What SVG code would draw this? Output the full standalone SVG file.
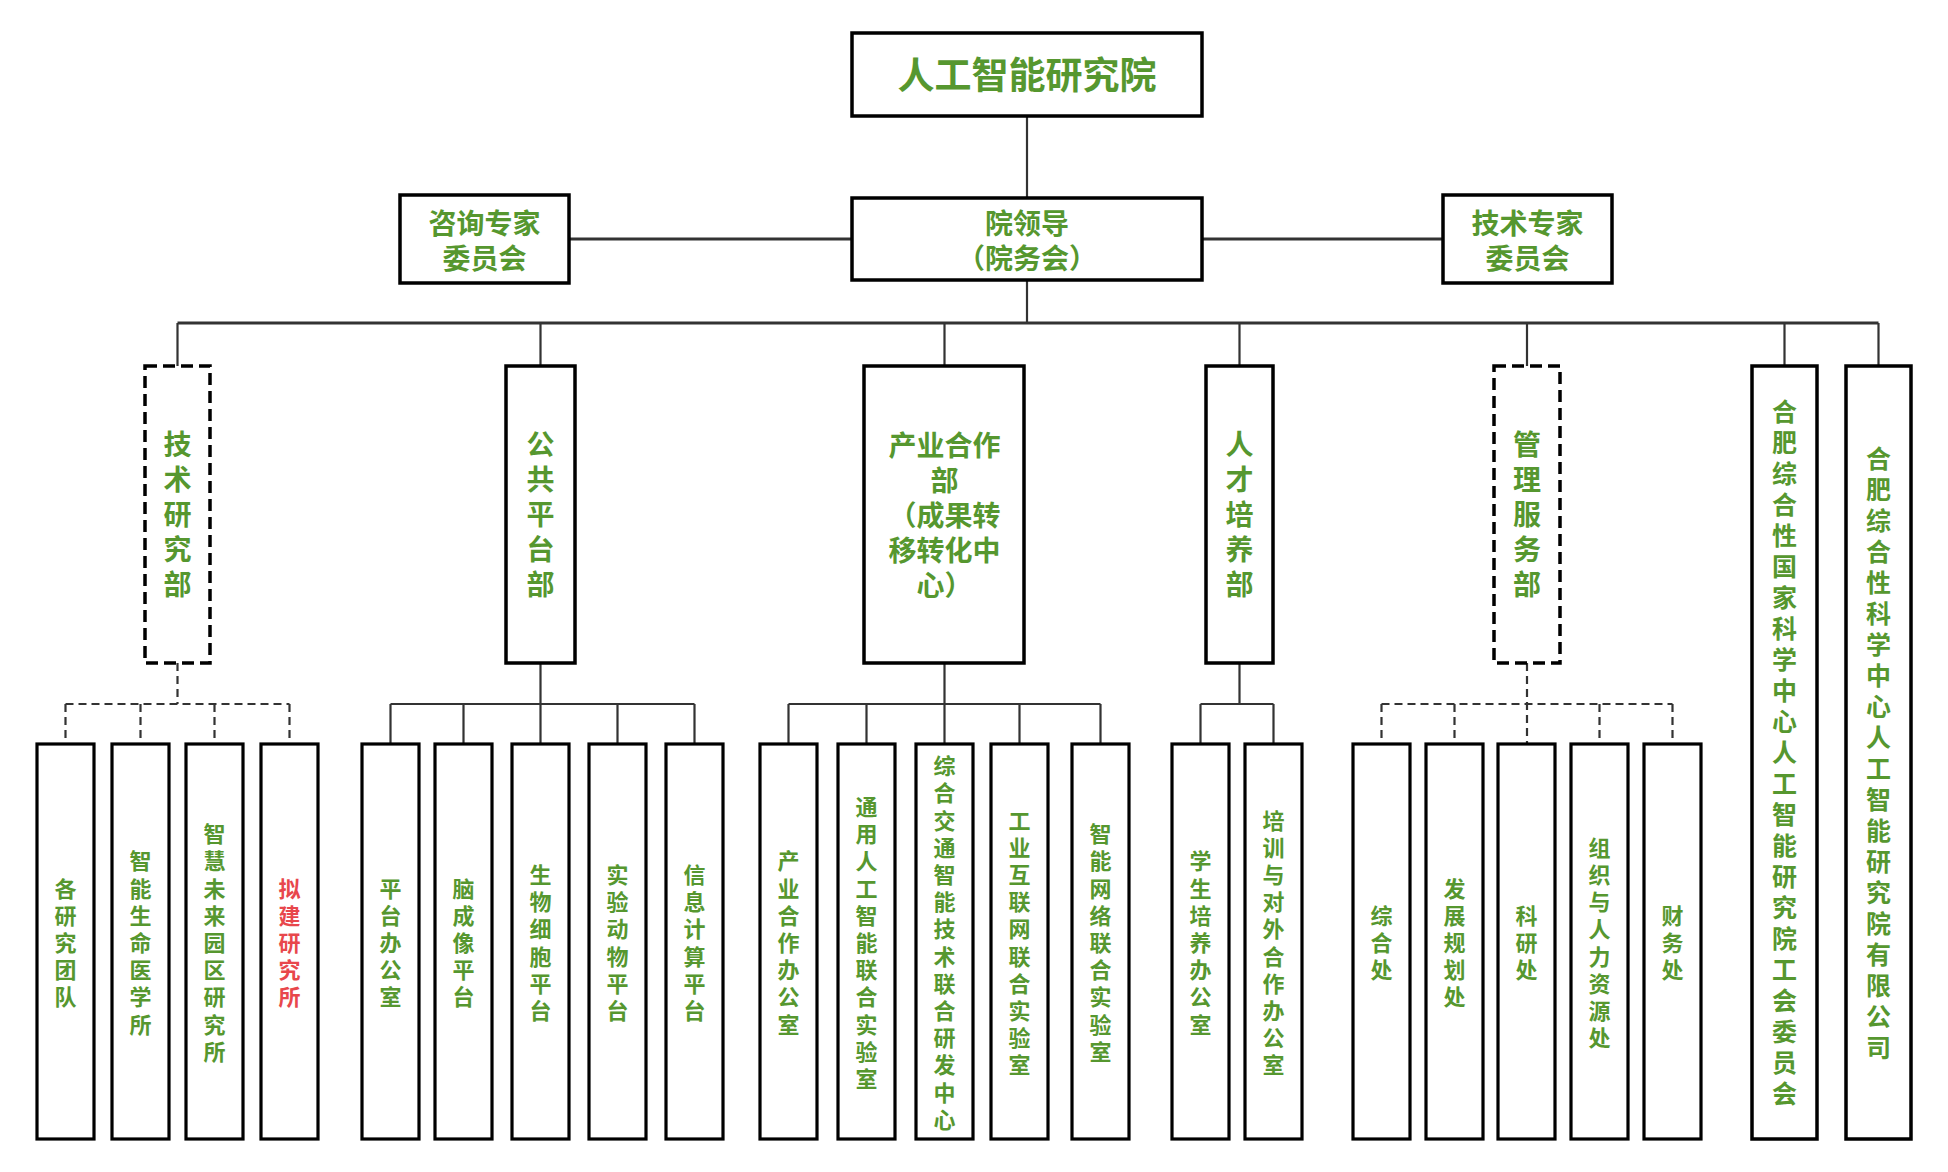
<svg xmlns="http://www.w3.org/2000/svg" width="1948" height="1172" viewBox="0 0 1948 1172">
<style>
.box{fill:#fff;stroke:#000;stroke-width:3.5}
.dbox{fill:#fff;stroke:#000;stroke-width:3.5;stroke-dasharray:12 6}
.cb{fill:#fff;stroke:#000;stroke-width:3.2}
.ln{stroke:#333;stroke-width:2.2;fill:none}
.lnb{stroke:#333;stroke-width:3;fill:none}
.dl{stroke:#333;stroke-width:2.2;fill:none;stroke-dasharray:8 5}
text{font-family:"Noto Sans CJK SC","Noto Sans",sans-serif;font-weight:bold;fill:#56972f;text-anchor:middle}
.t1{font-size:37px}
.t2{font-size:28px}
.ct{font-size:22px}
.ht{font-size:25px}
.red{fill:#e8474c}
</style>
<rect width="1948" height="1172" fill="#fff"/>
<g id="connectors">
<path class="ln" d="M1027 116V198"/>
<path class="lnb" d="M569 239H852M1202 239H1443"/>
<path class="ln" d="M1027 280V323"/>
<path class="lnb" d="M177.5 323H1878.5"/>
<path class="ln" d="M177.5 323V366M540.5 323V366M944.5 323V366M1239.5 323V366M1527 323V366M1784.5 323V366M1878.5 323V366"/>
<path class="dl" d="M177.5 663V704M65.5 704H289.5M65.5 704V744M140.5 704V744M214.5 704V744M289.5 704V744"/>
<path class="ln" d="M540.5 663V744M390.5 704H694.5M390.5 704V744M463.5 704V744M617.5 704V744M694.5 704V744"/>
<path class="ln" d="M944.5 663V744M788.5 704H1100.5M788.5 704V744M866.5 704V744M1019.5 704V744M1100.5 704V744"/>
<path class="ln" d="M1239.5 663V704M1200.5 704H1273.5M1200.5 704V744M1273.5 704V744"/>
<path class="dl" d="M1527 663V744M1381.5 704H1672.5M1381.5 704V744M1454.5 704V744M1599.5 704V744M1672.5 704V744"/>
</g>
<g id="n-root"><rect class="box" x="852" y="33" width="350" height="83"/><text class="t1" x="1027" y="89">人工智能研究院</text></g>
<g id="n-leader"><rect class="box" x="852" y="198" width="350" height="82"/><text class="t2" x="1027" y="234">院领导</text><text class="t2" x="1027" y="269">（院务会）</text></g>
<g id="n-consult"><rect class="box" x="400" y="195" width="169" height="88"/><text class="t2" x="484.5" y="234">咨询专家</text><text class="t2" x="484.5" y="269">委员会</text></g>
<g id="n-techexp"><rect class="box" x="1443" y="195" width="169" height="88"/><text class="t2" x="1527.5" y="234">技术专家</text><text class="t2" x="1527.5" y="269">委员会</text></g>
<g id="d-tech"><rect class="dbox" x="145" y="366" width="65" height="297"/><text class="t2" x="177.5 177.5 177.5 177.5 177.5" y="455 490 525 560 595">技术研究部</text></g>
<g id="d-public"><rect class="box" x="506" y="366" width="69" height="297"/><text class="t2" x="540.5 540.5 540.5 540.5 540.5" y="455 490 525 560 595">公共平台部</text></g>
<g id="d-industry"><rect class="box" x="864" y="366" width="160" height="297"/><text class="t2" x="944.5" y="456">产业合作</text><text class="t2" x="944.5" y="491">部</text><text class="t2" x="944.5" y="526">（成果转</text><text class="t2" x="944.5" y="561">移转化中</text><text class="t2" x="944.5" y="596">心）</text></g>
<g id="d-talent"><rect class="box" x="1206" y="366" width="67" height="297"/><text class="t2" x="1239.5 1239.5 1239.5 1239.5 1239.5" y="455 490 525 560 595">人才培养部</text></g>
<g id="d-admin"><rect class="dbox" x="1494" y="366" width="66" height="297"/><text class="t2" x="1527 1527 1527 1527 1527" y="455 490 525 560 595">管理服务部</text></g>
<g id="d-union"><rect class="box" x="1752" y="366" width="65" height="773"/><text class="ht" x="1784.5 1784.5 1784.5 1784.5 1784.5 1784.5 1784.5 1784.5 1784.5 1784.5 1784.5 1784.5 1784.5 1784.5 1784.5 1784.5 1784.5 1784.5 1784.5 1784.5 1784.5 1784.5 1784.5" y="421 452 483 514 545 576 607 638 669 700 731 762 793 824 855 886 917 948 979 1010 1041 1072 1103">合肥综合性国家科学中心人工智能研究院工会委员会</text></g>
<g id="d-company"><rect class="box" x="1846" y="366" width="65" height="773"/><text class="ht" x="1878.5 1878.5 1878.5 1878.5 1878.5 1878.5 1878.5 1878.5 1878.5 1878.5 1878.5 1878.5 1878.5 1878.5 1878.5 1878.5 1878.5 1878.5 1878.5 1878.5" y="467.5 498.5 529.5 560.5 591.5 622.5 653.5 684.5 715.5 746.5 777.5 808.5 839.5 870.5 901.5 932.5 963.5 994.5 1025.5 1056.5">合肥综合性科学中心人工智能研究院有限公司</text></g>
<g id="c1"><rect class="cb" x="37" y="744" width="57" height="395"/><text class="ct" x="65.5 65.5 65.5 65.5 65.5" y="896.6 923.8 951 978.2 1005.4">各研究团队</text></g>
<g id="c2"><rect class="cb" x="112" y="744" width="57" height="395"/><text class="ct" x="140.5 140.5 140.5 140.5 140.5 140.5 140.5" y="869.4 896.6 923.8 951 978.2 1005.4 1032.6">智能生命医学所</text></g>
<g id="c3"><rect class="cb" x="186" y="744" width="57" height="395"/><text class="ct" x="214.5 214.5 214.5 214.5 214.5 214.5 214.5 214.5 214.5" y="842.2 869.4 896.6 923.8 951 978.2 1005.4 1032.6 1059.8">智慧未来园区研究所</text></g>
<g id="c4"><rect class="cb" x="261" y="744" width="57" height="395"/><text class="ct red" x="289.5 289.5 289.5 289.5 289.5" y="896.6 923.8 951 978.2 1005.4">拟建研究所</text></g>
<g id="c5"><rect class="cb" x="362" y="744" width="57" height="395"/><text class="ct" x="390.5 390.5 390.5 390.5 390.5" y="896.6 923.8 951 978.2 1005.4">平台办公室</text></g>
<g id="c6"><rect class="cb" x="435" y="744" width="57" height="395"/><text class="ct" x="463.5 463.5 463.5 463.5 463.5" y="896.6 923.8 951 978.2 1005.4">脑成像平台</text></g>
<g id="c7"><rect class="cb" x="512" y="744" width="57" height="395"/><text class="ct" x="540.5 540.5 540.5 540.5 540.5 540.5" y="883 910.2 937.4 964.6 991.8 1019">生物细胞平台</text></g>
<g id="c8"><rect class="cb" x="589" y="744" width="57" height="395"/><text class="ct" x="617.5 617.5 617.5 617.5 617.5 617.5" y="883 910.2 937.4 964.6 991.8 1019">实验动物平台</text></g>
<g id="c9"><rect class="cb" x="666" y="744" width="57" height="395"/><text class="ct" x="694.5 694.5 694.5 694.5 694.5 694.5" y="883 910.2 937.4 964.6 991.8 1019">信息计算平台</text></g>
<g id="c10"><rect class="cb" x="760" y="744" width="57" height="395"/><text class="ct" x="788.5 788.5 788.5 788.5 788.5 788.5 788.5" y="869.4 896.6 923.8 951 978.2 1005.4 1032.6">产业合作办公室</text></g>
<g id="c11"><rect class="cb" x="838" y="744" width="57" height="395"/><text class="ct" x="866.5 866.5 866.5 866.5 866.5 866.5 866.5 866.5 866.5 866.5 866.5" y="815 842.2 869.4 896.6 923.8 951 978.2 1005.4 1032.6 1059.8 1087">通用人工智能联合实验室</text></g>
<g id="c12"><rect class="cb" x="916" y="744" width="57" height="395"/><text class="ct" x="944.5 944.5 944.5 944.5 944.5 944.5 944.5 944.5 944.5 944.5 944.5 944.5 944.5 944.5" y="774.2 801.4 828.6 855.8 883 910.2 937.4 964.6 991.8 1019 1046.2 1073.4 1100.6 1127.8">综合交通智能技术联合研发中心</text></g>
<g id="c13"><rect class="cb" x="991" y="744" width="57" height="395"/><text class="ct" x="1019.5 1019.5 1019.5 1019.5 1019.5 1019.5 1019.5 1019.5 1019.5 1019.5" y="828.6 855.8 883 910.2 937.4 964.6 991.8 1019 1046.2 1073.4">工业互联网联合实验室</text></g>
<g id="c14"><rect class="cb" x="1072" y="744" width="57" height="395"/><text class="ct" x="1100.5 1100.5 1100.5 1100.5 1100.5 1100.5 1100.5 1100.5 1100.5" y="842.2 869.4 896.6 923.8 951 978.2 1005.4 1032.6 1059.8">智能网络联合实验室</text></g>
<g id="c15"><rect class="cb" x="1172" y="744" width="57" height="395"/><text class="ct" x="1200.5 1200.5 1200.5 1200.5 1200.5 1200.5 1200.5" y="869.4 896.6 923.8 951 978.2 1005.4 1032.6">学生培养办公室</text></g>
<g id="c16"><rect class="cb" x="1245" y="744" width="57" height="395"/><text class="ct" x="1273.5 1273.5 1273.5 1273.5 1273.5 1273.5 1273.5 1273.5 1273.5 1273.5" y="828.6 855.8 883 910.2 937.4 964.6 991.8 1019 1046.2 1073.4">培训与对外合作办公室</text></g>
<g id="c17"><rect class="cb" x="1353" y="744" width="57" height="395"/><text class="ct" x="1381.5 1381.5 1381.5" y="923.8 951 978.2">综合处</text></g>
<g id="c18"><rect class="cb" x="1426" y="744" width="57" height="395"/><text class="ct" x="1454.5 1454.5 1454.5 1454.5 1454.5" y="896.6 923.8 951 978.2 1005.4">发展规划处</text></g>
<g id="c19"><rect class="cb" x="1498" y="744" width="57" height="395"/><text class="ct" x="1526.5 1526.5 1526.5" y="923.8 951 978.2">科研处</text></g>
<g id="c20"><rect class="cb" x="1571" y="744" width="57" height="395"/><text class="ct" x="1599.5 1599.5 1599.5 1599.5 1599.5 1599.5 1599.5 1599.5" y="855.8 883 910.2 937.4 964.6 991.8 1019 1046.2">组织与人力资源处</text></g>
<g id="c21"><rect class="cb" x="1644" y="744" width="57" height="395"/><text class="ct" x="1672.5 1672.5 1672.5" y="923.8 951 978.2">财务处</text></g>
</svg>
